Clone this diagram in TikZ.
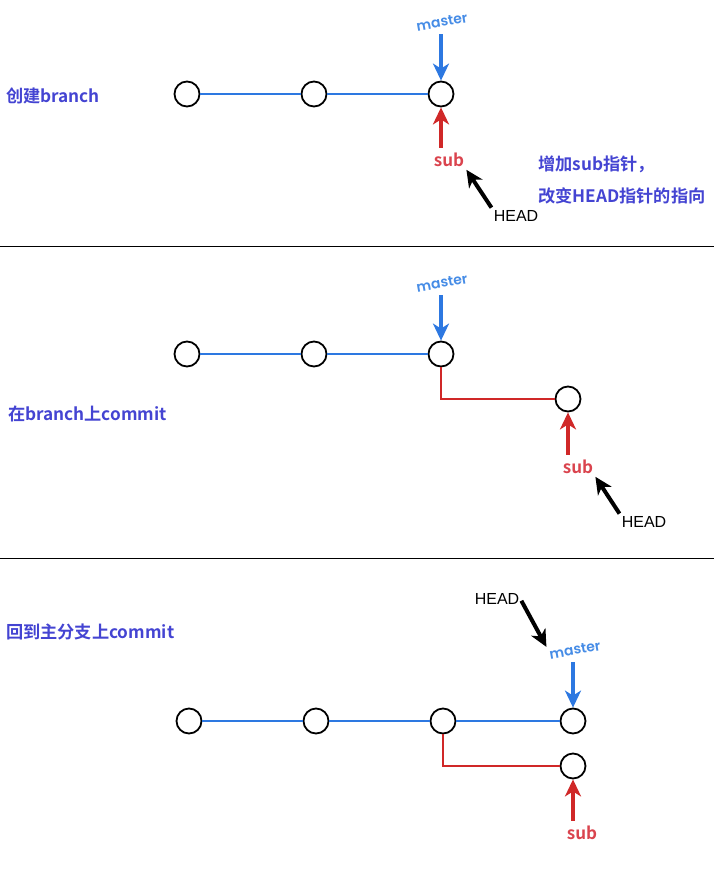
\documentclass[tikz,border=0pt]{standalone}
\usepackage{fontspec}
\newfontfamily\cjk{Noto Sans CJK SC}[BoldFont={Noto Sans CJK SC Bold}]
\newfontfamily\handfont{Poppins}[BoldFont={Poppins SemiBold}]
\newfontfamily\headfont{Liberation Sans}
\usetikzlibrary{arrows.meta}
\definecolor{labelblue}{RGB}{68,68,210}
\definecolor{lineblue}{RGB}{45,120,225}
\definecolor{masterblue}{RGB}{70,140,230}
\definecolor{linered}{RGB}{208,40,40}
\definecolor{subred}{RGB}{218,68,78}
\begin{document}
\begin{tikzpicture}[x=1pt,y=-1pt,
	commit/.style={circle,draw,line width=1.8pt,minimum size=25pt,inner sep=0pt},
	hist/.style={draw=lineblue,line width=1.4pt},
	br/.style={draw=linered,line width=1.5pt},
	steplabel/.style={anchor=west,inner sep=0pt,text=labelblue,font=\cjk\bfseries\fontsize{17.2}{19}\selectfont},
	mtext/.style={text=masterblue,rotate=10,inner sep=1pt,font=\handfont\bfseries\fontsize{14}{16}\selectfont},
	stext/.style={text=subred,inner sep=1pt,font=\cjk\bfseries\fontsize{17}{19}\selectfont},
	htext/.style={inner sep=1pt,font=\headfont\fontsize{16}{18}\selectfont},
	tip/.style={-{Stealth[length=17pt,width=16pt,inset=5pt]}},
	mptr/.style={draw=lineblue,line width=4pt,tip,shorten <=6pt},
	sptr/.style={draw=linered,line width=4pt,tip,shorten <=4pt},
	hptr/.style={draw=black,line width=4pt,tip,shorten <=2pt,shorten >=2pt}]
	\useasboundingbox (0,0) rectangle (714,871);
	% create branch
	\node[commit] (a1) at (187,94) {};
	\node[commit] (a2) at (314,94) {};
	\node[commit] (a3) at (441,94) {};
	\draw[hist] (a1) -- (a2) -- (a3);
	\node[mtext] (m1) at (442,22) {master};
	\draw[mptr] (m1.south -| a3) -- (a3);
	\node[stext] (s1) at (449,160) {sub};
	\draw[sptr] (s1.north -| a3) -- (a3);
	\node[htext] (h1) at (516,216) {HEAD};
	\draw[hptr] (h1.north west) -- (s1.south east);
	\node[steplabel] (t1) at (6,96) {创建branch};
	\node[steplabel] (n1) at (538,164) {增加sub指针，};
	\node[steplabel] (n2) at (538,196) {改变HEAD指针的指向};
	\draw[line width=0.8pt] (0,246) -- (714,246);
	% commit on branch
	\node[commit] (b1) at (187,354) {};
	\node[commit] (b2) at (314,354) {};
	\node[commit] (b3) at (441,354) {};
	\node[commit] (b4) at (568,399) {};
	\draw[hist] (b1) -- (b2) -- (b3);
	\draw[br] (b3) |- (b4);
	\node[mtext] (m2) at (442,283) {master};
	\draw[mptr] (m2.south -| b3) -- (b3);
	\node[stext] (s2) at (578,467) {sub};
	\draw[sptr] (s2.north -| b4) -- (b4);
	\node[htext] (h2) at (644,522) {HEAD};
	\draw[hptr] (h2.north west) -- (s2.south east);
	\node[steplabel] (t2) at (8,414) {在branch上commit};
	\draw[line width=0.8pt] (0,558) -- (714,558);
	% back to master
	\node[commit] (c1) at (189,721) {};
	\node[commit] (c2) at (316,721) {};
	\node[commit] (c3) at (443,721) {};
	\node[commit] (c4) at (573,721) {};
	\node[commit] (c5) at (573,766) {};
	\draw[hist] (c1) -- (c2) -- (c3) -- (c4);
	\draw[br] (c3) |- (c5);
	\node[mtext] (m3) at (575,650) {master};
	\draw[mptr] (m3.south -| c4) -- (c4);
	\node[stext] (s3) at (582,833) {sub};
	\draw[sptr] (s3.north -| c5) -- (c5);
	\node[htext] (h3) at (497,599) {HEAD};
	\draw[hptr] (h3.east) -- (m3.north west);
	\node[steplabel] (t3) at (6,632) {回到主分支上commit};
\end{tikzpicture}
\end{document}
